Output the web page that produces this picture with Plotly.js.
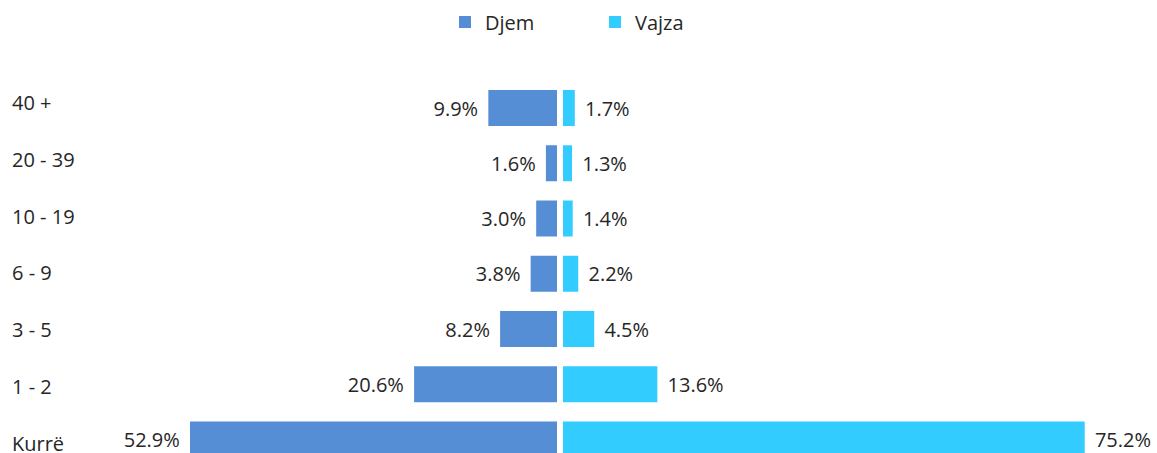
<!DOCTYPE html>
<html>
<head>
<meta charset="utf-8">
<script src="https://cdn.plot.ly/plotly-3.0.1.min.js"></script>
<style>html,body{margin:0;padding:0;background:#fff;}#chart{width:1157px;height:453px;}</style>
</head>
<body>
<div id="chart"></div>
<script>
// Data
const categories = ["40 +", "20 - 39", "10 - 19", "6 - 9", "3 - 5", "1 - 2", "Kurrë"];
const djem = [9.9, 1.6, 3.0, 3.8, 8.2, 20.6, 52.9];
const vajza = [1.7, 1.3, 1.4, 2.2, 4.5, 13.6, 75.2];
const seriesNames = ["Djem", "Vajza"];

const FONT = "Open Sans, Noto Sans, sans-serif";
const TXT = "#262626";
const W = 1157, H = 453;
const centerL = 557, centerR = 563;          // pixel positions of zero lines
const pxPerPct = 367 / 52.9;

const traces = [
  {
    type: "bar", orientation: "h", name: seriesNames[0],
    y: categories, x: djem, xaxis: "x", yaxis: "y",
    marker: {color: "#558ED5", line: {width: 0}},
    texttemplate: "%{x:.1f}%\u00a0\u200a", textposition: "outside",
    constraintext: "none", cliponaxis: false,
    textfont: {family: FONT, size: 20, color: TXT},
    hoverinfo: "x+y"
  },
  {
    type: "bar", orientation: "h", name: seriesNames[1],
    y: categories, x: vajza, xaxis: "x2", yaxis: "y",
    marker: {color: "#33CCFF", line: {width: 0}},
    texttemplate: "\u200a\u00a0%{x:.1f}%", textposition: "outside",
    constraintext: "none", cliponaxis: false,
    textfont: {family: FONT, size: 20, color: TXT},
    hoverinfo: "x+y"
  }
];

// y range so that bar centers sit at 108 + i*55.25 px
const step = 55.25, c0 = 108;
const yTop = -c0 / step, yBot = (H - c0) / step;
// label axis: label centers at ~102.5 + i*56.8 px
const lstep = 56.8, l0 = 102.5;
const lTop = -l0 / lstep, lBot = (H - l0) / lstep;

const hidden = {showgrid: false, zeroline: false, showline: false, showticklabels: false, ticks: ""};

const annotations = categories.map((c, i) => ({
  xref: "paper", yref: "y2", x: 10 / W, y: i, xanchor: "left", yanchor: "middle",
  text: c, showarrow: false, font: {family: FONT, size: 20, color: TXT}
}));

const layout = {
  width: W, height: H,
  margin: {l: 0, r: 0, t: 0, b: 0, pad: 0},
  paper_bgcolor: "#fff", plot_bgcolor: "#fff",
  font: {family: FONT, color: TXT},
  bargap: 1 - 36 / step,
  showlegend: true,
  legend: {
    orientation: "h", x: 445 / W, xanchor: "left", y: 1 - 22 / H, yanchor: "middle",
    font: {family: FONT, size: 20, color: TXT}, entrywidth: 105, itemclick: false,
    bgcolor: "rgba(0,0,0,0)"
  },
  xaxis: Object.assign({domain: [0, centerL / W], range: [centerL / pxPerPct, 0], fixedrange: true}, hidden),
  xaxis2: Object.assign({domain: [centerR / W, 1], range: [0, (W - centerR) / pxPerPct], fixedrange: true}, hidden),
  yaxis: Object.assign({type: "category", range: [yBot, yTop], fixedrange: true}, hidden),
  yaxis2: Object.assign({overlaying: "y", range: [lBot, lTop], fixedrange: true}, hidden),
  annotations: annotations
};

Plotly.newPlot("chart", traces, layout, {displayModeBar: false, staticPlot: true});
</script>
</body>
</html>
